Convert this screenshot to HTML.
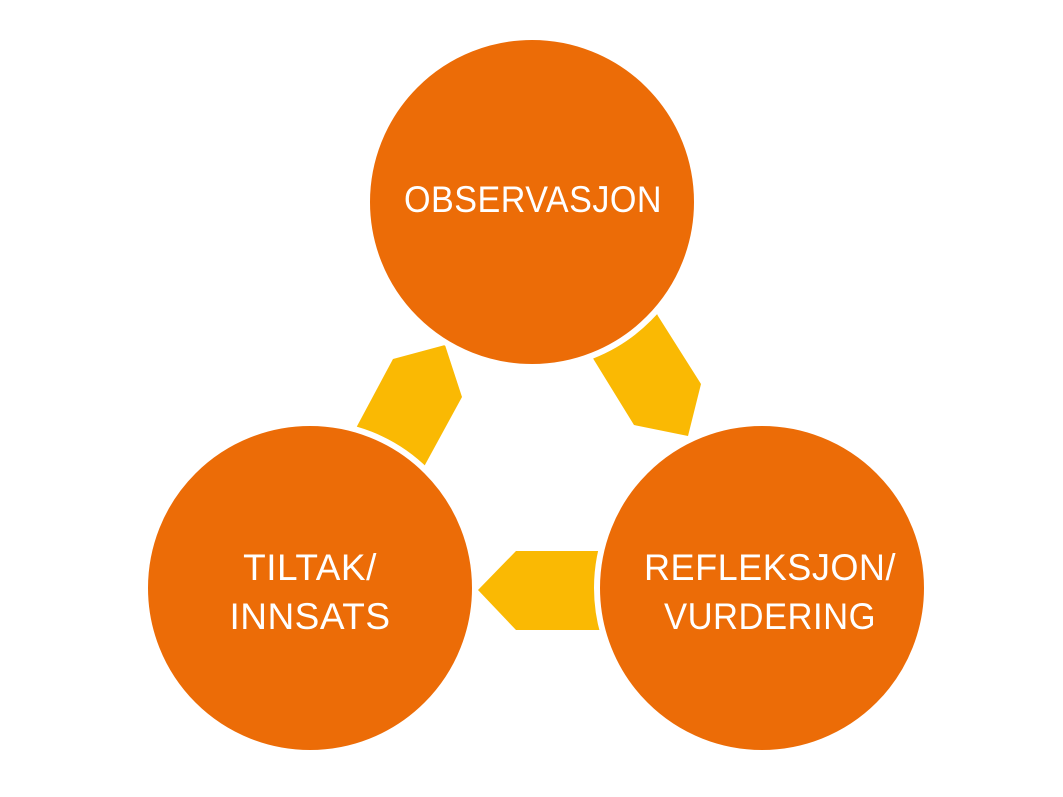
<!DOCTYPE html>
<html><head><style>html,body{margin:0;padding:0;background:#fff;}</style></head>
<body>
<svg width="1063" height="792" viewBox="0 0 1063 792" xmlns="http://www.w3.org/2000/svg">
<g fill="#FAB903">
<polygon points="658,316 701,384 688,436 634,425 594,360 560,300 640,280"/>
<polygon points="393,359 445,345 462,397 408,496 340,458"/>
<polygon points="516,551 597,551 640,551 640,630 599,630 516,630 478,590"/>
</g>
<g fill="#EC6C07" stroke="#fff" stroke-width="6">
<circle cx="532" cy="202" r="165"/>
<circle cx="310" cy="588" r="165"/>
<circle cx="762" cy="588" r="165"/>
</g>
<g fill="#fff" font-family="Liberation Sans, sans-serif" font-size="37" text-anchor="middle" style="letter-spacing:0.5px">
<text x="533" y="212" textLength="258" lengthAdjust="spacingAndGlyphs">OBSERVASJON</text>
<text x="310" y="580">TILTAK/</text>
<text x="310" y="629">INNSATS</text>
<text x="770" y="580" textLength="252" lengthAdjust="spacingAndGlyphs">REFLEKSJON/</text>
<text x="770" y="629" textLength="212" lengthAdjust="spacingAndGlyphs">VURDERING</text>
</g>
</svg>
</body></html>
